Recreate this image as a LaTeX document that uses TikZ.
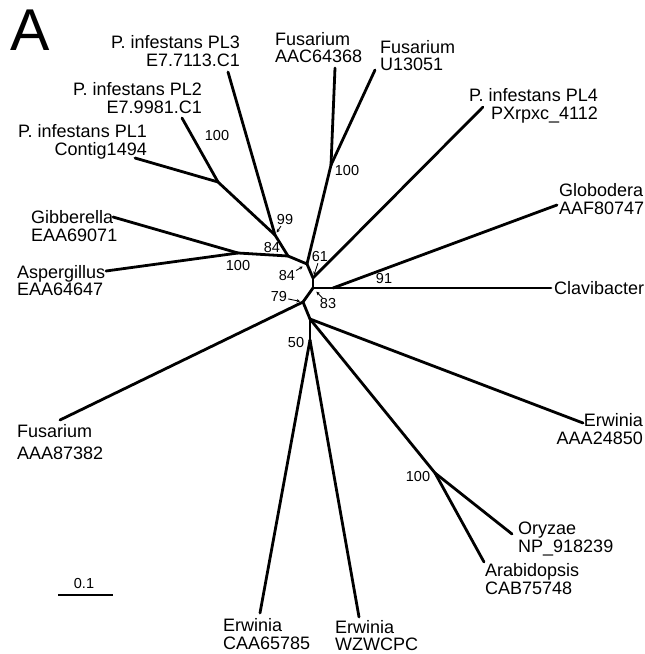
\documentclass[tikz,border=0pt]{standalone}
\usepackage{fontspec}
\setmainfont{Liberation Sans}
\usetikzlibrary{arrows.meta}

\begin{document}
\begin{tikzpicture}[x=1pt, y=-1pt,
    branch/.style={line width=2.8pt, line cap=round, line join=round},
    taxon/.style={inner sep=0pt, font=\fontsize{18}{17.5}\selectfont},
    taxl/.style={taxon, align=left, anchor=north west},
    taxr/.style={taxon, align=right, anchor=north east},
    boot/.style={inner sep=0pt, font=\fontsize{14.5}{14.5}\selectfont},
    bootarr/.style={-{Stealth[length=3.5pt, width=3.5pt]}, line width=0.9pt,
      shorten <=1pt, shorten >=3pt},
  ]
  \fill[white] (0,0) rectangle (645,654);
  \useasboundingbox (0,0) rectangle (645,654);
  % panel letter
  \node[inner sep=0pt, anchor=north west, font=\fontsize{59}{59}\selectfont] (panel) at (10,10) {A};
  % inner nodes of the tree
  \coordinate (n61) at (313,278);
  \coordinate (n84b) at (307,264);
  \coordinate (n84a) at (288,256);
  \coordinate (n99) at (275,235);
  \coordinate (nPL) at (218,182);
  \coordinate (nGA) at (238,253);
  \coordinate (nFU) at (331,165);
  \coordinate (n83) at (313,288);
  \coordinate (n91) at (333,288);
  \coordinate (n79) at (303,302);
  \coordinate (nER) at (310,319);
  \coordinate (nOA) at (435,473);
  \coordinate (n50) at (310,340);
  % branch tips
  \coordinate (pl3) at (228,72);
  \coordinate (pl2) at (182,118);
  \coordinate (pl1) at (135,158);
  \coordinate (gib) at (113,217);
  \coordinate (asp) at (106,271);
  \coordinate (fusaac) at (335,68);
  \coordinate (fusu) at (375,70);
  \coordinate (pl4) at (483,107);
  \coordinate (glob) at (557,205);
  \coordinate (clav) at (551,288);
  \coordinate (fusaaa) at (60,420);
  \coordinate (erwaaa) at (583,423);
  \coordinate (ory) at (512,534);
  \coordinate (arab) at (484,562);
  \coordinate (erwwzw) at (359,617);
  \coordinate (erwcaa) at (260,613);
  % taxon labels
  \node[taxr] (pl3lab) at (240,35.5) {P. infestans PL3\\E7.7113.C1};
  \node[taxr] (pl2lab) at (202,82.5) {P. infestans PL2\\E7.9981.C1};
  \node[taxr] (pl1lab) at (147,124.5) {P. infestans PL1\\Contig1494};
  \node[taxl] (giblab) at (31,210.5) {Gibberella\\EAA69071};
  \node[taxl] (asplab) at (17,265) {Aspergillus\\EAA64647};
  \node[taxl] (fusaaclab) at (275,32) {Fusarium\\AAC64368};
  \node[taxl] (fusulab) at (380,40) {Fusarium\\U13051};
  \node[taxr] (pl4lab) at (598,88.5) {P. infestans PL4\\PXrpxc\_4112};
  \node[taxl] (globlab) at (559,183.5) {Globodera\\AAF80747};
  \node[taxon, anchor=west] (clavlab) at (554,288) {Clavibacter};
  \node[taxl] (fusaaalab) at (17,424) {Fusarium\\[4.5pt]AAA87382};
  \node[taxr] (erwaaalab) at (643,413.5) {Erwinia\\AAA24850};
  \node[taxl] (orylab) at (518,522) {Oryzae\\NP\_918239};
  \node[taxl] (arablab) at (485,563.5) {Arabidopsis\\CAB75748};
  \node[taxl] (erwwzwlab) at (335,620) {Erwinia\\WZWCPC};
  \node[taxl] (erwcaalab) at (223,618.5) {Erwinia\\CAA65785};
  % branches
  \draw[branch] (n61) -- (pl4);
  \draw[branch] (n61) -- (n84b);
  \draw[branch] (n61) -- (n83);
  \draw[branch] (n84b) -- (nFU);
  \draw[branch] (n84b) -- (n84a);
  \draw[branch] (nFU) -- (fusaac);
  \draw[branch] (nFU) -- (fusu);
  \draw[branch] (n84a) -- (nGA);
  \draw[branch] (n84a) -- (n99);
  \draw[branch] (nGA) -- (gib);
  \draw[branch] (nGA) -- (asp);
  \draw[branch] (n99) -- (pl3);
  \draw[branch] (n99) -- (nPL);
  \draw[branch] (nPL) -- (pl1);
  \draw[branch] (nPL) -- (pl2);
  \draw[branch] (n83) -- (n91);
  \draw[branch] (n83) -- (n79);
  \draw[branch] (n91) -- (clav);
  \draw[branch] (n91) -- (glob);
  \draw[branch] (n79) -- (fusaaa);
  \draw[branch] (n79) -- (nER);
  \draw[branch] (nER) -- (erwaaa);
  \draw[branch] (nER) -- (nOA);
  \draw[branch] (nER) -- (n50);
  \draw[branch] (nOA) -- (ory);
  \draw[branch] (nOA) -- (arab);
  \draw[branch] (n50) -- (erwcaa);
  \draw[branch] (n50) -- (erwwzw);
  % bootstrap values
  \node[boot] (b100pl) at (217,136) {100};
  \node[boot] (b99) at (285,220) {99};
  \node[boot] (b84a) at (272,248) {84};
  \node[boot] (b100ga) at (238,266) {100};
  \node[boot] (b100fu) at (347,171) {100};
  \node[boot] (b61) at (320,257) {61};
  \node[boot] (b84b) at (287,276) {84};
  \node[boot] (b79) at (279,297) {79};
  \node[boot] (b83) at (328,304) {83};
  \node[boot] (b91) at (384,279) {91};
  \node[boot] (b50) at (296,343) {50};
  \node[boot] (b100oa) at (418,477) {100};
  \draw[bootarr] (b99) -- (n99);
  \draw[bootarr] (b61) -- (n61);
  \draw[bootarr, shorten >=5pt] (b84b) -- (n84b);
  \draw[bootarr] (b79) -- (n79);
  \draw[bootarr, shorten >=5pt] (b83) -- (n83);
  % scale bar
  \coordinate (sbl) at (58,595);
  \coordinate (sbr) at (113,595);
  \draw[line width=2.2pt] (sbl) -- (sbr);
  \node[boot] (sblab) at (84,584) {0.1};
\end{tikzpicture}
\end{document}
